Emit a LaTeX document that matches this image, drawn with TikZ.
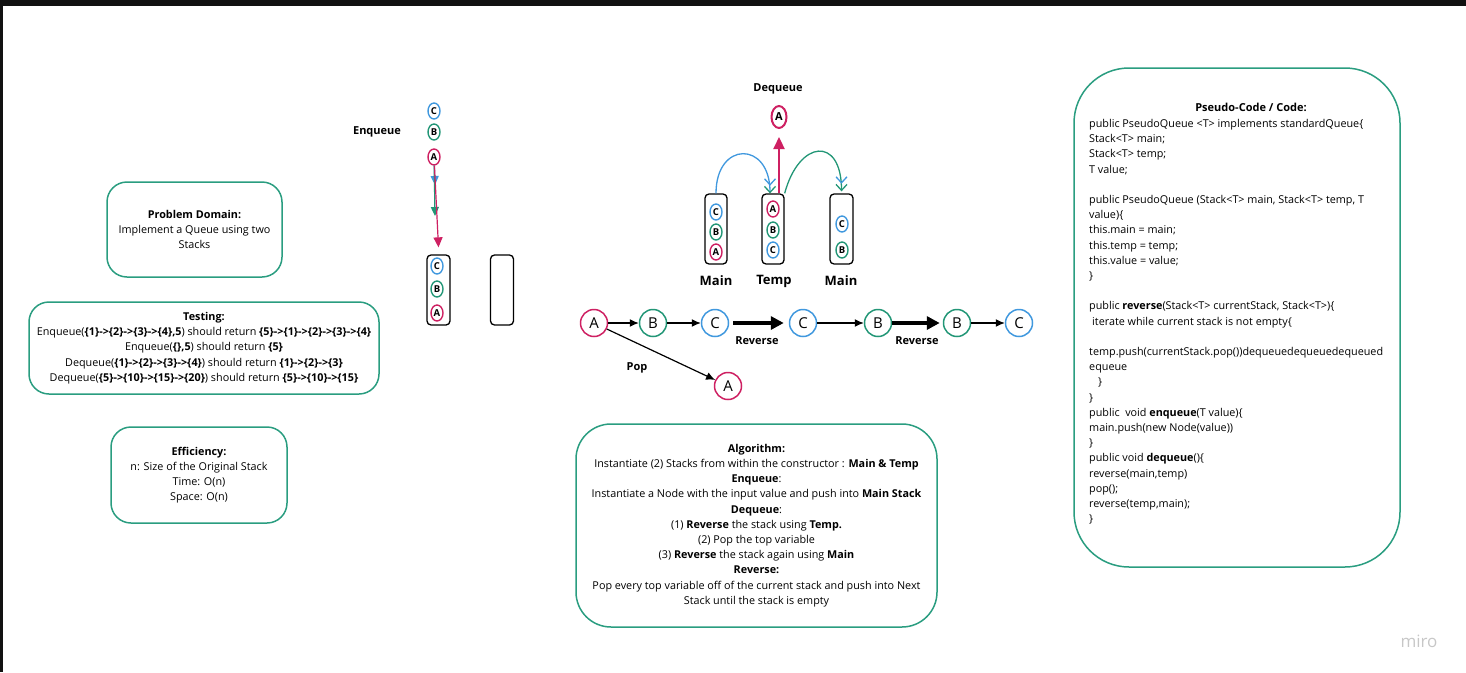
\documentclass[tikz,border=0pt]{standalone}
\usepackage{fontspec}
\setmainfont{Open Sans}
\usetikzlibrary{arrows.meta,shapes.geometric}
\definecolor{qpink}{RGB}{206,32,98}
\definecolor{qgreen}{RGB}{34,150,118}
\definecolor{qblue}{RGB}{64,152,222}
\definecolor{qframe}{RGB}{42,157,128}
\definecolor{qband}{RGB}{17,17,17}
\tikzset{
  infobox/.style={draw=qframe, line width=1.5pt, rounded corners=20pt, align=center,
    font=\fontsize{10.8}{15.2}\selectfont, inner sep=0pt},
  item/.style={draw=#1, ellipse, line width=1.4pt, minimum width=12pt, minimum height=16pt,
    inner sep=0pt, font=\fontsize{9.5}{9.5}\selectfont\bfseries},
  ball/.style={draw=#1, circle, line width=1.5pt, minimum size=27pt, inner sep=0pt,
    font=\fontsize{15}{15}\selectfont},
  stackbox/.style={draw, line width=1.3pt, rounded corners=4pt, minimum width=23pt,
    minimum height=70pt, inner sep=0pt},
  tag/.style={font=\fontsize{11}{13}\selectfont\bfseries},
  bigtag/.style={font=\fontsize{13}{15}\selectfont\bfseries},
  thin/.style={-{Latex[length=9pt,width=8pt]}, line width=1.2pt},
  fat/.style={-{Triangle[length=13pt,width=13pt]}, line width=4pt},
  chev/.style={line width=1.3pt, -{Straight Barb[length=6pt,width=11pt,color=qblue]
    Straight Barb[length=6pt,width=11pt,color=qgreen]}}
}
\begin{document}
\begin{tikzpicture}[x=1pt,y=-1pt]
\useasboundingbox (0,0) rectangle (1466,672);
\fill[qband] (0,0) rectangle (1466,6);
\fill[qband] (0,0) rectangle (3,672);

% left column
\node[infobox, minimum width=175pt, minimum height=95pt] (domain) at (194.5,229.5)
  {\textbf{Problem Domain:}\\Implement a Queue using two\\Stacks};
\node[infobox, minimum width=350pt, minimum height=92pt] (testing) at (204,348)
  {\textbf{Testing:}\\
   Enqueue(\textbf{\{1\}->\{2\}->\{3\}->\{4\},5}) should return \textbf{\{5\}->\{1\}->\{2\}->\{3\}->\{4\}}\\
   Enqueue(\textbf{\{\},5}) should return \textbf{\{5\}}\\
   Dequeue(\textbf{\{1\}->\{2\}->\{3\}->\{4\}}) should return \textbf{\{1\}->\{2\}->\{3\}}\\
   Dequeue(\textbf{\{5\}->\{10\}->\{15\}->\{20\}}) should return \textbf{\{5\}->\{10\}->\{15\}}};
\node[infobox, minimum width=176pt, minimum height=96pt] (effic) at (199,475)
  {\textbf{Efficiency:}\\n: Size of the Original Stack\\Time: O(n)\\Space: O(n)};

% enqueue
\node[tag] (enqlabel) at (377,132) {Enqueue};
\node[item=qblue] (eC) at (434,111) {C};
\node[item=qgreen] (eB) at (434,132) {B};
\node[item=qpink] (eA) at (434,157) {A};
\node[stackbox] (stackA) at (438.5,290) {};
\node[stackbox] (stackB) at (502,290) {};
\node[item=qblue] (sC) at (437,266) {C};
\node[item=qgreen] (sB) at (437,289) {B};
\node[item=qpink] (sA) at (437,313) {A};
\coordinate (enqblue) at (435,185);
\coordinate (enqgreen) at (435,216);
\draw[qblue, line width=1.2pt, -{Triangle[length=9pt,width=8pt]}] (eA) -- (enqblue);
\draw[qgreen, line width=1.2pt, -{Triangle[length=9pt,width=8pt]}] (eA) -- (enqgreen);
\draw[qpink, line width=1.2pt, -{Triangle[length=10pt,width=9pt]}] (eA) -- ([yshift=7pt]stackA.north);

% dequeue
\node[tag] (deqlabel) at (778,89) {Dequeue};
\node[draw=qpink, ellipse, line width=2pt, minimum width=15pt, minimum height=22pt, inner sep=0pt,
  font=\fontsize{11}{11}\selectfont\bfseries] (dA) at (779,117) {A};
\node[stackbox, minimum width=22pt] (main1) at (716,229) {};
\node[stackbox, minimum width=22pt] (temp) at (773,229) {};
\node[stackbox] (main2) at (841.5,229) {};
\node[item=qblue] (m1C) at (716,212) {C};
\node[item=qgreen] (m1B) at (716,232) {B};
\node[item=qpink] (m1A) at (716,252) {A};
\node[item=qpink] (tA) at (773,209) {A};
\node[item=qgreen] (tB) at (773,230) {B};
\node[item=qblue] (tC) at (773,250) {C};
\node[item=qblue] (m2C) at (842,224) {C};
\node[item=qgreen] (m2B) at (842,250) {B};
\node[bigtag] at (716,281) {Main};
\node[bigtag] at (774,281) {Temp};
\node[bigtag] at (841,281) {Main};
\draw[qblue, chev] (main1.north) to[out=90, in=90, looseness=2.5] ([xshift=-3pt]temp.north);
\draw[qgreen, chev] (temp.north east) to[out=75, in=90, looseness=2.5] ([yshift=2pt]main2.north);
\draw[qpink, line width=2.2pt, -{Triangle[length=12pt,width=11pt]}] ([xshift=6pt]temp.north) -- ([yshift=-8pt]dA.south);

% reverse row
\node[ball=qpink] (rA) at (594,323) {A};
\node[ball=qgreen] (rB) at (653,323) {B};
\node[ball=qblue] (rC) at (715,323) {C};
\node[ball=qblue] (rc) at (803,323) {C};
\node[ball=qgreen] (rb) at (878,323) {B};
\node[ball=qgreen] (sB2) at (957,323) {B};
\node[ball=qblue] (sC2) at (1019,323) {C};
\node[ball=qpink] (pA) at (728,386) {A};
\draw[thin] (rA) -- (rB);
\draw[thin] (rB) -- (rC);
\draw[fat, shorten <=4pt, shorten >=5pt] (rC) -- (rc);
\draw[thin] (rc) -- (rb);
\draw[fat, shorten >=3pt] (rb) -- (sB2);
\draw[thin] (sB2) -- (sC2);
\draw[thin] (rA) -- (pA);
\node[tag] at (757,341) {Reverse};
\node[tag] at (917,341) {Reverse};
\node[tag] at (637,368) {Pop};

% algorithm
\node[infobox, rounded corners=35pt, minimum width=361pt, minimum height=203pt] (algo) at (756.5,525.5)
  {\textbf{Algorithm:}\\
   Instantiate (2) Stacks from within the constructor : \textbf{Main \& Temp}\\
   \textbf{Enqueue}:\\
   Instantiate a Node with the input value and push into \textbf{Main Stack}\\
   \textbf{Dequeue}:\\
   (1) \textbf{Reverse} the stack using \textbf{Temp.}\\
   (2) Pop the top variable\\
   (3) \textbf{Reverse} the stack again using \textbf{Main}\\
   \textbf{Reverse:}\\
   Pop every top variable off of the current stack and push into Next\\
   Stack until the stack is empty};

% pseudo code
\node[draw=qframe, line width=1.5pt, rounded corners=55pt, minimum width=326pt, minimum height=499pt]
  (code) at (1237,317.5) {};
\node[tag] (codetitle) at (1251,107) {Pseudo-Code / Code:};
\node[anchor=north west, align=left, inner sep=0pt, font=\fontsize{10.8}{15.2}\selectfont] (codetext) at (1089,119)
  {public PseudoQueue <T> implements standardQueue\{\\
   Stack<T> main;\\
   Stack<T> temp;\\
   T value;\\
   \mbox{}\\
   public PseudoQueue (Stack<T> main, Stack<T> temp, T\\
   value)\{\\
   this.main = main;\\
   this.temp = temp;\\
   this.value = value;\\
   \}\\
   \mbox{}\\
   public \textbf{reverse}(Stack<T> currentStack, Stack<T>)\{\\
   \hspace*{3pt}iterate while current stack is not empty\{\\
   \mbox{}\\
   temp.push(currentStack.pop())dequeuedequeuedequeued\\
   equeue\\
   \hspace*{9pt}\}\\
   \}\\
   public\ \ void \textbf{enqueue}(T value)\{\\
   main.push(new Node(value))\\
   \}\\
   public void \textbf{dequeue}()\{\\
   reverse(main,temp)\\
   pop();\\
   reverse(temp,main);\\
   \}};

\node[text=black!22, font=\fontsize{17}{17}\selectfont] (logo) at (1419,641) {miro};
\end{tikzpicture}
\end{document}
